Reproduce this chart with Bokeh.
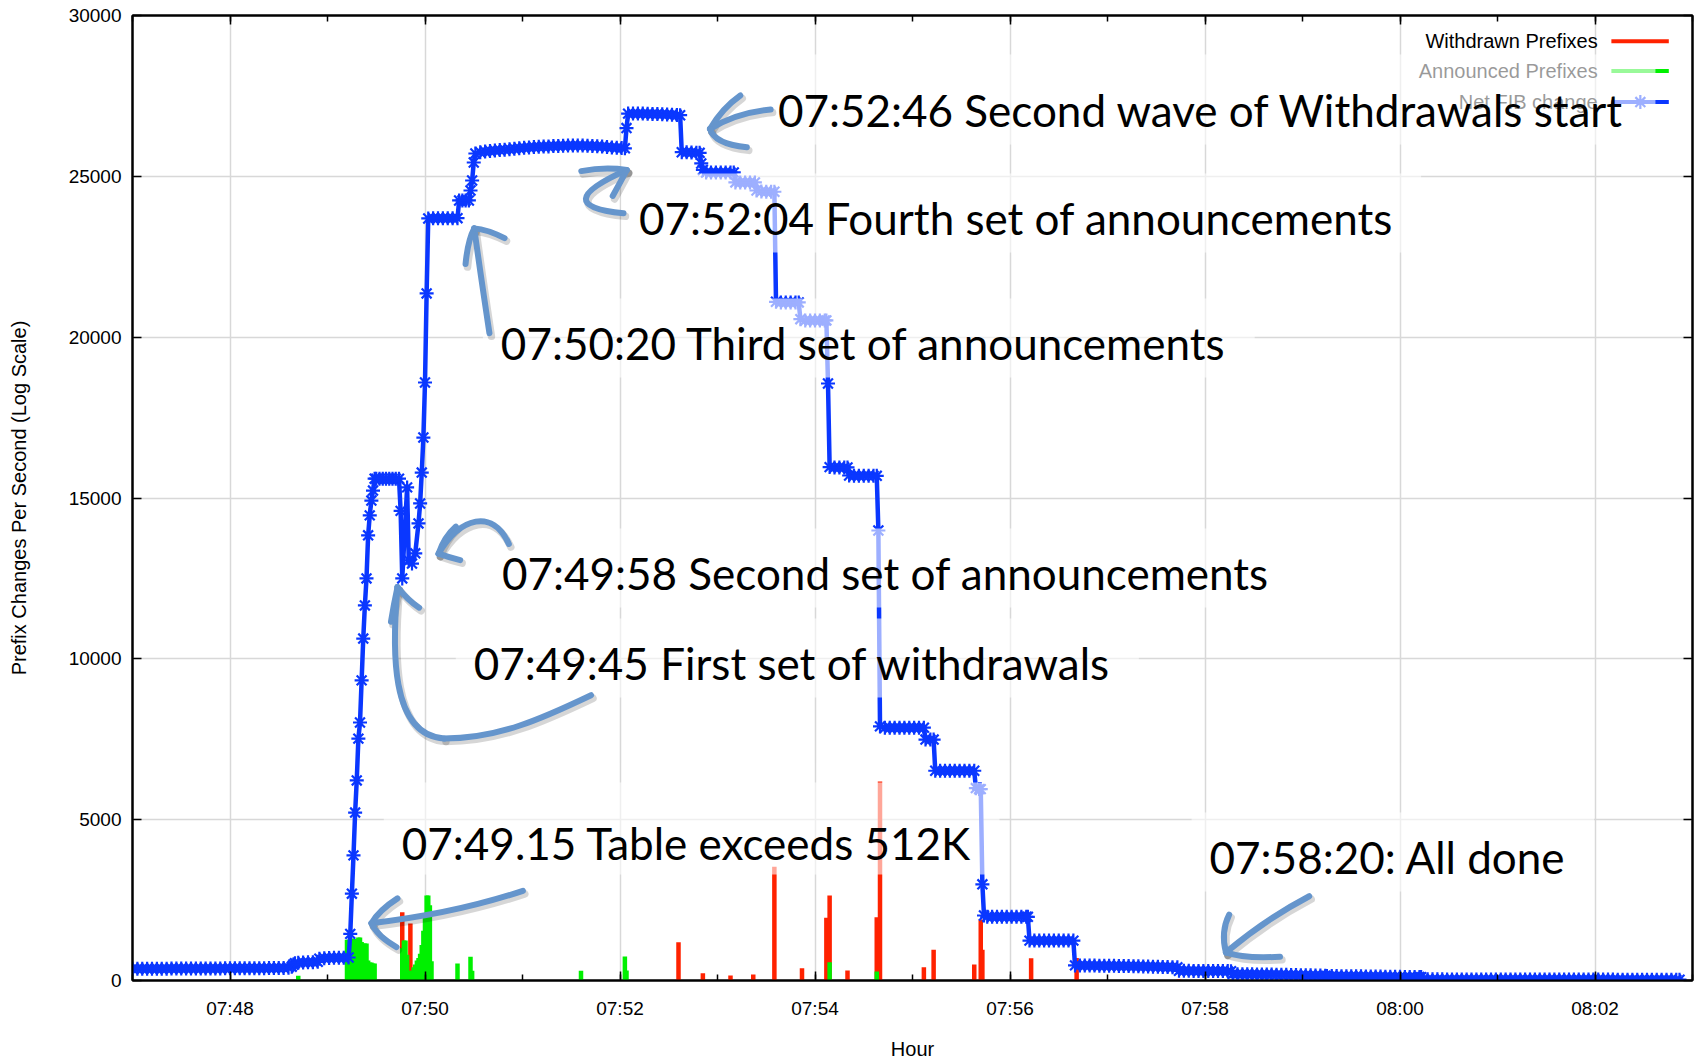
from bokeh.plotting import figure
from bokeh.models import Range1d, FixedTicker, LinearAxis, Label
from bokeh.core.properties import value
from bokeh.embed import file_html
from bokeh.resources import INLINE

# ---------------- data ----------------
T0 = 7 * 60 + 47          # 07:47:00, minutes of day; times below are seconds after it

# Net FIB change: (seconds after 07:47:00, prefixes)
net_points = [
    (0, 365), (3, 365), (6, 366), (9, 366), (12, 367), (15, 368), (18, 368), (21, 369), (24, 370), (27, 370),
    (30, 371), (33, 372), (36, 372), (39, 373), (42, 374), (45, 374), (48, 375), (51, 376), (54, 376), (57, 377),
    (60, 378), (63, 378), (66, 379), (69, 380), (72, 381), (75, 382), (78, 383), (81, 384), (84, 385), (87, 386),
    (90, 388), (93, 392), (96, 400), (98, 430), (99, 500), (100, 540),
    (102, 555), (105, 560), (108, 565), (111, 570), (114, 580),
    (115, 680), (118, 695), (121, 700), (124, 705), (127, 707), (130, 710), (133, 715),
    (134, 1450), (135, 2700), (136, 3890), (137, 5220), (138, 6220), (139, 7520), (140, 8020), (141, 9330),
    (142, 10630), (143, 11660), (144, 12500), (145, 13840), (146, 14460), (147, 14920), (148, 15230), (149, 15600),
    (150, 15600), (152, 15600), (154, 15600), (156, 15600), (158, 15600), (160, 15600), (162, 15600), (164, 15600),
    (165, 14600), (166, 12500), (169, 15330), (170, 13060), (172, 12960), (174, 13280), (176, 14210), (177, 14830),
    (178, 15790), (179, 16880), (180, 18590), (181, 21360), (182, 23690),
    (185, 23700), (188, 23700), (191, 23700), (194, 23700), (197, 23700), (200, 23700),
    (201, 24250), (203, 24250), (205, 24250), (207, 24250), (208, 24560), (209, 24870), (210, 25430), (211, 25710),
    (214, 25750), (217, 25770), (220, 25790), (223, 25800), (226, 25815), (229, 25830), (232, 25845), (235, 25860),
    (238, 25875), (241, 25890), (244, 25900), (247, 25910), (250, 25920), (253, 25925), (256, 25930), (259, 25940),
    (262, 25945), (265, 25950), (268, 25955), (271, 25960), (274, 25960), (277, 25955), (280, 25950), (283, 25945),
    (286, 25935), (289, 25925), (292, 25915), (295, 25900), (298, 25890), (301, 25880), (303, 25870),
    (304, 26500), (305, 26950), (308, 26950), (311, 26950), (314, 26950), (317, 26945), (320, 26940), (323, 26935),
    (326, 26930), (329, 26925), (332, 26915), (335, 26905), (337, 26900),
    (338, 25750), (341, 25750), (344, 25740), (347, 25735), (349, 25730),
    (350, 25400), (351, 25200), (353, 25120), (356, 25120), (359, 25120), (362, 25120), (365, 25120), (368, 25120),
    (370, 25120),
    (371, 24810), (374, 24810), (377, 24810), (380, 24810), (383, 24810),
    (384, 24560), (387, 24530), (390, 24520), (393, 24520), (395, 24520),
    (396, 21100), (399, 21080), (402, 21080), (405, 21080), (408, 21080), (410, 21080),
    (411, 20560), (414, 20520), (417, 20520), (420, 20520), (423, 20520), (426, 20520), (427, 20520),
    (428, 18560), (429, 15960), (432, 15950), (435, 15950), (438, 15950), (440, 15950),
    (441, 15700), (444, 15690), (447, 15690), (450, 15690), (453, 15690), (456, 15690), (458, 15690),
    (459, 13990), (460, 7900), (463, 7860), (466, 7860), (469, 7860), (472, 7860), (475, 7860), (478, 7860),
    (481, 7860), (484, 7860), (487, 7860),
    (488, 7490), (491, 7490), (493, 7490),
    (494, 6520), (497, 6520), (500, 6520), (503, 6520), (506, 6520), (509, 6520), (512, 6520), (515, 6520),
    (518, 6520),
    (519, 5980), (521, 5950), (522, 5950),
    (523, 2990), (524, 2020), (526, 1980), (529, 1980), (532, 1980), (535, 1980), (538, 1980), (541, 1980),
    (544, 1980), (547, 1980), (550, 1980), (551, 1980),
    (552, 1240), (555, 1240), (558, 1240), (561, 1240), (564, 1240), (567, 1240), (570, 1240), (573, 1240),
    (576, 1240), (579, 1240),
    (580, 470), (583, 470), (586, 468), (589, 466), (592, 463), (595, 461), (598, 459), (601, 457), (604, 455),
    (607, 452), (610, 450), (613, 447), (616, 444), (619, 441), (622, 438), (625, 435), (628, 431), (631, 427),
    (634, 422), (637, 418), (640, 415), (643, 410),
    (644, 300), (647, 300), (650, 300), (653, 299), (656, 298), (659, 297), (662, 296), (665, 295), (668, 294),
    (671, 293), (674, 292), (676, 290),
    (677, 200), (680, 198), (683, 197), (686, 195), (689, 193), (692, 190), (695, 188), (698, 186), (701, 184),
    (704, 181), (707, 178), (710, 175), (713, 172), (716, 169), (719, 166), (722, 163), (725, 160), (728, 157),
    (731, 154), (734, 150),
    (735, 140), (738, 139), (741, 137), (744, 135), (747, 134), (750, 132), (753, 131), (756, 129), (759, 127),
    (762, 125), (765, 124), (768, 122), (771, 120), (774, 118), (777, 116), (780, 113), (783, 111), (786, 109),
    (789, 107), (792, 106), (793, 105),
    (794, 35), (797, 35), (800, 35), (803, 35), (806, 35), (809, 34), (812, 34), (815, 34), (818, 34), (821, 34),
    (824, 33), (827, 33), (830, 33), (833, 33), (836, 33), (839, 32), (842, 32), (845, 32), (848, 32), (851, 32),
    (854, 31), (857, 31), (860, 31), (863, 31), (866, 31), (869, 30), (872, 30), (875, 30), (878, 30), (881, 30),
    (884, 29), (887, 29), (890, 29), (893, 29), (896, 29), (899, 28), (902, 28), (905, 28), (908, 28), (911, 28),
    (914, 27), (917, 27), (920, 27), (923, 27), (926, 27), (929, 26), (932, 26), (935, 26), (938, 26), (941, 26),
    (944, 25), (947, 25), (950, 25), (952, 25),
]

withdrawn_sec = [166, 171, 336, 351, 368, 382, 395, 412, 427, 429, 440, 458, 460,
                 487, 493, 518, 522, 523, 553, 581, 644]
withdrawn_val = [2120, 1770, 1190, 227, 155, 190, 3540, 380, 1950, 2640, 310, 1970, 6190,
                 415, 955, 500, 1900, 955, 693, 700, 40]

announced_sec = [102,
                 132, 133, 134, 135, 136, 137, 138, 139, 140, 141, 142, 143, 144, 145, 146, 147, 148, 149,
                 166, 167, 168, 169, 170, 171, 172,
                 173, 174, 175, 176, 177, 178, 179, 180, 181, 182, 183, 184,
                 200, 208, 209, 276, 303, 304, 429, 458]
announced_val = [150,
                 1270, 1270, 1300, 1300, 1300, 1290, 1290, 1340, 1340, 1200, 1150, 1150, 1150, 620, 560, 560, 530, 530,
                 1000, 1240, 1240, 800, 300, 200, 300,
                 410, 500, 620, 700, 830, 1100, 1550, 2000, 2640, 2640, 2340, 600,
                 530, 740, 300, 300, 746, 310, 570, 280]

x_tick_labels = ["07:48", "07:50", "07:52", "07:54", "07:56", "07:58", "08:00", "08:02"]
y_ticks = [0, 5000, 10000, 15000, 20000, 25000, 30000]

series_names = ["Withdrawn Prefixes", "Announced Prefixes", "Net FIB change"]

notes = ["07:52:46 Second wave of Withdrawals start",
         "07:52:04 Fourth set of announcements",
         "07:50:20 Third set of announcements",
         "07:49:58 Second set of announcements",
         "07:49:45 First set of withdrawals",
         "07:49.15 Table exceeds 512K",
         "07:58:20: All done"]

# ---------------- styling / placement ----------------
RED = "#ff2200"
GREEN = "#00f000"
BLUE = "#0a37ff"
ARROW = "#6595cc"
SANS = "Liberation Sans"
NOTE_FONT = "Lato"

def tmin(s):
    return T0 + s / 60.0

def hm(lab):
    h, m = lab.split(":")
    return int(h) * 60 + int(m)

major_x = [hm(l) for l in x_tick_labels]
minor_x = list(range(T0, T0 + 17))

p = figure(width=1694, height=1063, x_range=Range1d(T0, T0 + 16), y_range=Range1d(0, 30000),
           output_backend="svg", toolbar_location=None,
           min_border_left=132, min_border_right=2, min_border_top=15, min_border_bottom=83)
p.background_fill_color = "white"
p.border_fill_color = "white"
p.outline_line_color = "black"
p.outline_line_width = 2

p.xaxis.ticker = FixedTicker(ticks=major_x, minor_ticks=minor_x)
p.xaxis.major_label_overrides = {m: l for m, l in zip(major_x, x_tick_labels)}
p.yaxis.ticker = FixedTicker(ticks=y_ticks)
p.yaxis.major_label_overrides = {v: str(v) for v in y_ticks}
for ax in (p.xaxis[0], p.yaxis[0]):
    ax.major_tick_in = 9
    ax.major_tick_out = 0
    ax.minor_tick_in = 6
    ax.minor_tick_out = 0
    ax.axis_line_color = "black"
    ax.axis_line_width = 2
    ax.major_tick_line_color = "black"
    ax.major_tick_line_width = 1.5
    ax.minor_tick_line_color = "black"
    ax.minor_tick_line_width = 1.5
    ax.major_label_text_font = SANS
    ax.major_label_text_font_size = "19px"
    ax.major_label_text_color = "black"
    ax.axis_label_text_font = SANS
    ax.axis_label_text_font_size = "20px"
    ax.axis_label_text_font_style = "normal"
    ax.axis_label_text_color = "black"
p.yaxis.minor_tick_line_color = None
p.xaxis.axis_label = "Hour"
p.yaxis.axis_label = "Prefix Changes Per Second (Log Scale)"
p.xaxis.major_label_standoff = 17
p.xaxis.axis_label_standoff = 16
p.yaxis.major_label_standoff = 11
p.yaxis.axis_label_standoff = 36

top_ax = LinearAxis(ticker=FixedTicker(ticks=major_x, minor_ticks=minor_x),
                    major_label_overrides={m: "" for m in major_x},
                    major_label_text_font_size="0px", major_label_standoff=0,
                    major_tick_in=9, major_tick_out=0, minor_tick_in=6, minor_tick_out=0,
                    axis_line_color="black", axis_line_width=2,
                    major_tick_line_width=1.5, minor_tick_line_width=1.5)
p.add_layout(top_ax, "above")
right_ax = LinearAxis(ticker=FixedTicker(ticks=y_ticks),
                      major_label_overrides={v: "" for v in y_ticks},
                      major_label_text_font_size="0px", major_label_standoff=0,
                      major_tick_in=9, major_tick_out=0, minor_tick_line_color=None,
                      axis_line_color="black", axis_line_width=2, major_tick_line_width=1.5)
p.add_layout(right_ax, "right")

for g in (p.xgrid[0], p.ygrid[0]):
    g.grid_line_color = "#d8d8d8"
    g.grid_line_width = 1.5

# ---------------- series ----------------
wx = [tmin(s) for s in withdrawn_sec]
p.segment(x0=wx, y0=[0] * len(wx), x1=wx, y1=withdrawn_val, line_color=RED, line_width=4.5)
ax_ = [tmin(s) for s in announced_sec]
p.segment(x0=ax_, y0=[0] * len(ax_), x1=ax_, y1=announced_val, line_color=GREEN, line_width=4.5)
nx = [tmin(s) for s, _ in net_points]
ny = [v for _, v in net_points]
p.line(nx, ny, line_color=BLUE, line_width=4.5)
p.scatter(nx, ny, marker="asterisk", size=14, line_color=BLUE, line_width=2.2)

# ---------------- key (gnuplot style: text then sample) ----------------
key_text_x = 482.028
key_line_x0, key_line_x1 = 482.168, 482.757
key_y = [29203, 28271, 27308]
key_colors = [RED, GREEN, BLUE]
p.text(x=[key_text_x] * 3, y=key_y, text=series_names, text_align="right", text_baseline="middle",
       text_font=value(SANS), text_font_size="20px", text_color="black")
p.segment(x0=[key_line_x0] * 3, y0=key_y, x1=[key_line_x1] * 3, y1=key_y,
          line_color=key_colors, line_width=4)
p.scatter([482.465], [key_y[2]], marker="asterisk", size=14, line_color=BLUE, line_width=2.2)

# ---------------- call-out texts (white translucent boxes) ----------------
note_pos = [(473.62, 26520), (472.195, 23130), (470.778, 19245), (470.789, 12125),
            (470.50, 9389), (469.762, 3793), (478.047, 3389)]
note_pad_top = [30, 19, 19, 19, 19, 35, 19]
note_pad_bottom = [8, 8, 8, 8, 8, 5, 8]
note_pad_right = [31, 28, 28, 28, 28, 28, 28]
note_dy = [-6.5, 0, 0, -1, -3, -9.5, -4]
PAD_LEFT = 18
for txt, (nxp, nyp), pt, pb, pr, dy in zip(notes, note_pos, note_pad_top, note_pad_bottom,
                                           note_pad_right, note_dy):
    p.add_layout(Label(x=nxp, y=nyp, text=txt, text_font=NOTE_FONT, text_font_size="44px",
                       text_color="black", text_baseline="alphabetic", text_align="left",
                       x_offset=-PAD_LEFT, y_offset=pt + 4.5 + dy,
                       background_fill_color="white", background_fill_alpha=0.6,
                       padding=(PAD_LEFT, pr, pt, pb)))

# ---------------- hand-drawn arrows ----------------
arrow_quads = [
    (473.545, 27078, 473.190, 26977, 472.923, 26473),
    (472.923, 26473, 473.045, 27111, 473.234, 27514),
    (472.923, 26473, 472.968, 26003, 473.301, 25902),
    (472.036, 23852, 471.248, 24088, 472.069, 25196),
    (472.069, 25196, 471.850, 25300, 471.603, 25163),
    (472.069, 25196, 472.000, 24800, 471.925, 24390),
    (470.661, 20123, 470.572, 21904, 470.505, 23382),
    (470.505, 23382, 470.439, 23013, 470.416, 22273),
    (470.505, 23382, 470.638, 23349, 470.816, 23080),
    (470.139, 13270, 470.200, 13800, 470.317, 14110),
    (470.139, 13270, 470.250, 13150, 470.361, 13068),
    (469.718, 12229, 469.680, 11700, 469.651, 11154),
    (469.718, 12229, 469.830, 11800, 469.940, 11590),
    (471.004, 2788, 470.306, 2083, 469.451, 1781),
    (469.451, 1781, 469.529, 2184, 469.718, 2553),
    (469.451, 1781, 469.507, 1377, 469.707, 1041),
    (479.069, 2620, 478.625, 1915, 478.215, 873),
    (478.215, 873, 478.159, 1512, 478.248, 2049),
    (478.215, 873, 478.403, 672, 478.769, 739),
]
arrow_cubics = [
    (470.139, 13270, 470.361, 14412, 470.694, 14681, 470.860, 13572),
    (469.718, 12229, 469.662, 10314, 469.640, 7626, 470.195, 7525),
    (470.195, 7525, 470.749, 7525, 471.193, 8130, 471.703, 8869),
]
SH_DX, SH_DY = 0.02, -95
for dx, dy, col, alpha, lw in ((SH_DX, SH_DY, "#000000", 0.16, 7.5), (0, 0, ARROW, 1.0, 6)):
    p.quadratic(x0=[a[0] + dx for a in arrow_quads], y0=[a[1] + dy for a in arrow_quads],
                cx=[a[2] + dx for a in arrow_quads], cy=[a[3] + dy for a in arrow_quads],
                x1=[a[4] + dx for a in arrow_quads], y1=[a[5] + dy for a in arrow_quads],
                line_color=col, line_alpha=alpha, line_width=lw, line_cap="round", level="overlay")
    p.bezier(x0=[a[0] + dx for a in arrow_cubics], y0=[a[1] + dy for a in arrow_cubics],
             cx0=[a[2] + dx for a in arrow_cubics], cy0=[a[3] + dy for a in arrow_cubics],
             cx1=[a[4] + dx for a in arrow_cubics], cy1=[a[5] + dy for a in arrow_cubics],
             x1=[a[6] + dx for a in arrow_cubics], y1=[a[7] + dy for a in arrow_cubics],
             line_color=col, line_alpha=alpha, line_width=lw, line_cap="round", level="overlay")

open("out.html", "w").write(file_html(p, INLINE))
